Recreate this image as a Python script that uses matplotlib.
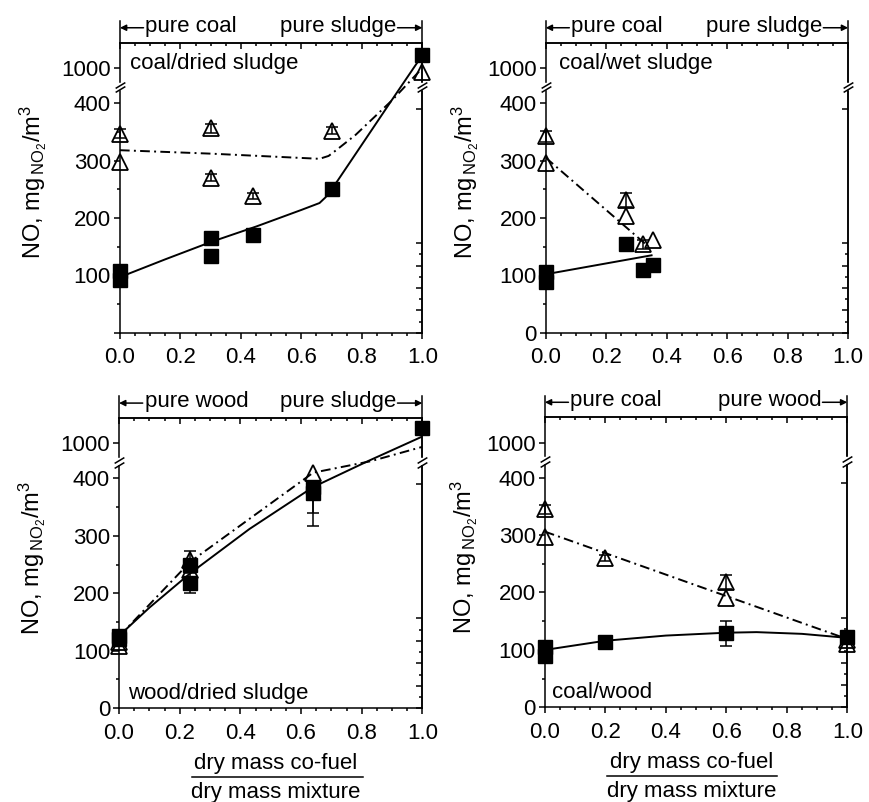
import numpy as np
import matplotlib
matplotlib.use("Agg")
import matplotlib.pyplot as plt
from matplotlib.ticker import FixedLocator, MultipleLocator, FormatStrFormatter

plt.rcParams["font.family"] = "Liberation Sans"
plt.rcParams["font.size"] = 16
plt.rcParams["mathtext.fontset"] = "custom"
plt.rcParams["mathtext.rm"] = "Liberation Sans"
plt.rcParams["mathtext.it"] = "Liberation Sans:italic"
plt.rcParams["mathtext.bf"] = "Liberation Sans:bold"

# broken y axis: 0-430 linear, 430-800 squeezed, 800+ compressed
BREAK_LO, BREAK_HI, UPPER_SCALE = 430.0, 800.0, 0.15


def forward(v):
    v = np.asarray(v, float)
    return np.where(v <= BREAK_LO, v,
                    np.where(v <= BREAK_HI,
                             BREAK_LO + (v - BREAK_LO) / (BREAK_HI - BREAK_LO),
                             BREAK_LO + 1 + (v - BREAK_HI) * UPPER_SCALE))


def inverse(p):
    p = np.asarray(p, float)
    return np.where(p <= BREAK_LO, p,
                    np.where(p <= BREAK_LO + 1,
                             BREAK_LO + (p - BREAK_LO) * (BREAK_HI - BREAK_LO),
                             BREAK_HI + (p - BREAK_LO - 1) / UPPER_SCALE))


# coal / dried sludge
cds_sq_x = [0, 0, 0.3, 0.3, 0.44, 0.7, 1.0]
cds_sq_y = [108, 92, 165, 133, 170, 250, 1155]
cds_sq_err = [0, 0, 0, 0, 0, 0, 0]
cds_tri_x = [0, 0, 0.3, 0.3, 0.44, 0.7, 1.0]
cds_tri_y = [347, 297, 356, 270, 238, 352, 950]
cds_tri_err = [8, 0, 8, 6, 5, 6, 0]
cds_fit_x = [0, 0.15, 0.3, 0.45, 0.6, 0.66, 0.68, 0.72, 0.9, 1.0]
cds_fit_y = [97, 128, 158, 185, 214, 226, 236, 265, 406, 1150]
cds_dd_x = [0, 0.3, 0.66, 0.69, 0.72, 0.78, 0.9, 1.0]
cds_dd_y = [318, 312, 303, 308, 320, 345, 405, 1000]

# coal / wet sludge
cws_sq_x = [0, 0, 0.265, 0.32, 0.355]
cws_sq_y = [106, 89, 154, 110, 118]
cws_sq_err = [0, 0, 0, 0, 0]
cws_tri_x = [0, 0, 0.265, 0.265, 0.32, 0.355]
cws_tri_y = [342, 295, 231, 203, 154, 162]
cws_tri_err = [10, 0, 12, 0, 8, 0]
cws_fit_x = [0, 0.35]
cws_fit_y = [102, 135]
cws_dd_x = [0, 0.34]
cws_dd_y = [305, 150]

# wood / dried sludge
wds_sq_x = [0, 0, 0.235, 0.235, 0.64, 0.64, 1.0]
wds_sq_y = [126, 120, 250, 218, 385, 375, 1180]
wds_sq_err = [0, 0, 0, 18, (68, 0), (36, 0), 0]
wds_tri_x = [0, 0, 0.235, 0.235, 0.64]
wds_tri_y = [115, 108, 258, 240, 410]
wds_tri_err = [0, 0, 15, 0, 0]
wds_fit_x = [0, 0.1, 0.235, 0.43, 0.64, 0.82, 1.0]
wds_fit_y = [126, 175, 235, 312, 385, 430, 1080]
wds_dd_x = [0, 0.235, 0.64, 0.83, 1.0]
wds_dd_y = [125, 255, 410, 432, 960]

# coal / wood
cw_sq_x = [0, 0, 0.2, 0.6, 1.0]
cw_sq_y = [105, 90, 113, 129, 122]
cw_sq_err = [0, 0, 10, 22, 8]
cw_tri_x = [0, 0, 0.2, 0.6, 0.6, 1.0, 1.0]
cw_tri_y = [345, 297, 260, 218, 190, 117, 110]
cw_tri_err = [8, 0, 6, 12, 0, 0, 0]
cw_fit_x = [0, 0.2, 0.4, 0.6, 0.7, 0.85, 1.0]
cw_fit_y = [100, 116, 125, 130, 131, 128, 121]
cw_dd_x = [0, 1.0]
cw_dd_y = [306, 119]

y_major = [0, 100, 200, 300, 400, 1000]
y_minor = [50, 150, 250, 350]
YLABEL = r"NO, mg$\/_{\rm NO_2}$/m$^3$"

TICK_MAJOR, TICK_MINOR = 4.5, 2.5


def error_bars(ax, xs, ys, errs, zorder):
    for x, y, e in zip(xs, ys, errs):
        lo, hi = e if isinstance(e, tuple) else (e, e)
        if lo == 0 and hi == 0:
            continue
        ax.errorbar([x], [y], yerr=[[lo], [hi]], fmt="none", ecolor="k",
                    elinewidth=1.1, capsize=4.5, capthick=1.1, clip_on=False,
                    zorder=zorder)


def draw_panel(ax, name, left_fuel, right_fuel, sq, tri, fit, dd,
               name_pos, show_zero=True, xlabel=None, ylabel_x=-0.235):
    ax.set_yscale("function", functions=(forward, inverse))
    ax.set_xlim(0, 1.0)
    ax.set_ylim(0, 1293)

    ax.plot(fit[0], fit[1], color="k", lw=1.4, zorder=2)
    ax.plot(dd[0], dd[1], color="k", lw=1.4, dashes=(5, 2.2, 1.0, 2.2), zorder=2)

    error_bars(ax, tri[0], tri[1], tri[2], 3)
    error_bars(ax, sq[0], sq[1], sq[2], 3)
    ax.plot(tri[0], tri[1], ls="none", marker="^", ms=11.5, mfc="none",
            mec="k", mew=1.3, clip_on=False, zorder=4)
    ax.plot(sq[0], sq[1], ls="none", marker="s", ms=9.5, mfc="k", mec="k",
            clip_on=False, zorder=5)

    ax.yaxis.set_major_locator(FixedLocator(y_major))
    ax.yaxis.set_minor_locator(FixedLocator(y_minor))
    labels = [str(v) for v in y_major]
    if not show_zero:
        labels[0] = ""
    ax.set_yticklabels(labels)
    ax.xaxis.set_major_locator(MultipleLocator(0.2))
    ax.xaxis.set_minor_locator(MultipleLocator(0.05))
    ax.xaxis.set_major_formatter(FormatStrFormatter("%.1f"))

    ax.tick_params(axis="both", which="both", width=1.1, labelsize=16)
    ax.tick_params(axis="both", which="major", length=TICK_MAJOR)
    ax.tick_params(axis="both", which="minor", length=TICK_MINOR)
    ax.tick_params(axis="x", which="both", direction="out", top=False, pad=6)
    ax.tick_params(axis="y", which="both", direction="out", right=False, pad=2)
    for spine in ax.spines.values():
        spine.set_linewidth(1.1)

    # inward ticks on the mirrored top and right axes
    top = ax.secondary_xaxis("top")
    top.xaxis.set_major_locator(MultipleLocator(0.2))
    top.xaxis.set_minor_locator(MultipleLocator(0.05))
    top.tick_params(axis="x", which="both", direction="in", labeltop=False, width=1.1)
    top.tick_params(which="major", length=TICK_MAJOR)
    top.tick_params(which="minor", length=TICK_MINOR)
    top.spines["top"].set_linewidth(1.1)
    right = ax.secondary_yaxis("right")
    right.yaxis.set_major_locator(FixedLocator(y_major))
    right.yaxis.set_minor_locator(FixedLocator(y_minor))
    right.tick_params(axis="y", which="both", direction="in", labelright=False, width=1.1)
    right.tick_params(which="major", length=TICK_MAJOR)
    right.tick_params(which="minor", length=TICK_MINOR)
    right.spines["right"].set_linewidth(1.1)

    # break marks on both vertical spines
    ytr = ax.get_yaxis_transform()
    slash = [(-1, -0.6), (1, 0.6)]
    for xs in (0, 1):
        ax.plot([xs], [431.5], transform=ytr, marker="s", ms=5, mfc="w",
                mec="w", clip_on=False, zorder=6)
        ax.plot([xs], [BREAK_LO - 6], transform=ytr, marker=slash, ms=7,
                color="k", mew=1.1, ls="none", clip_on=False, zorder=7)
        ax.plot([xs], [BREAK_HI + 5], transform=ytr, marker=slash, ms=7,
                color="k", mew=1.1, ls="none", clip_on=False, zorder=7)

    # pure fuel arrows above the axes
    tr = ax.transAxes
    for xs in (0, 1):
        ax.plot([xs, xs], [1.0, 1.075], transform=tr, color="k", lw=1.1,
                clip_on=False)
    arrow = dict(arrowstyle="-|>", lw=1.1, color="k", mutation_scale=9,
                 shrinkA=0, shrinkB=0)
    ax.annotate("", xy=(0, 1.052), xytext=(0.078, 1.052), xycoords=tr,
                textcoords=tr, arrowprops=arrow)
    ax.annotate("", xy=(1.0, 1.052), xytext=(0.918, 1.052), xycoords=tr,
                textcoords=tr, arrowprops=arrow)
    ax.text(0.084, 1.057, "pure " + left_fuel, transform=tr, ha="left",
            va="center", fontsize=16)
    ax.text(0.914, 1.057, "pure " + right_fuel, transform=tr, ha="right",
            va="center", fontsize=16)

    ax.text(name_pos[0], name_pos[1], name, transform=tr, ha="left",
            va="center", fontsize=16)

    ax.set_ylabel(YLABEL, fontsize=17)
    ax.yaxis.set_label_coords(ylabel_x, 0.52)

    if xlabel is not None:
        cx, x0, x1 = xlabel
        ax.text(cx, -0.19, "dry mass co-fuel", transform=tr, ha="center",
                va="center", fontsize=16)
        ax.plot([x0, x1], [-0.238, -0.238], transform=tr, color="k", lw=1.1,
                clip_on=False)
        ax.text(cx, -0.29, "dry mass mixture", transform=tr, ha="center",
                va="center", fontsize=16)


fig = plt.figure(figsize=(8.69, 8.02), dpi=100)
ax_tl = fig.add_axes([0.138, 0.585, 0.348, 0.3616])
ax_tr = fig.add_axes([0.628, 0.585, 0.348, 0.3616])
ax_bl = fig.add_axes([0.137, 0.117, 0.349, 0.3616])
ax_br = fig.add_axes([0.627, 0.118, 0.348, 0.3616])

draw_panel(ax_tl, "coal/dried sludge", "coal", "sludge",
           (cds_sq_x, cds_sq_y, cds_sq_err), (cds_tri_x, cds_tri_y, cds_tri_err),
           (cds_fit_x, cds_fit_y), (cds_dd_x, cds_dd_y),
           (0.033, 0.93), show_zero=False)
draw_panel(ax_tr, "coal/wet sludge", "coal", "sludge",
           (cws_sq_x, cws_sq_y, cws_sq_err), (cws_tri_x, cws_tri_y, cws_tri_err),
           (cws_fit_x, cws_fit_y), (cws_dd_x, cws_dd_y),
           (0.045, 0.93), ylabel_x=-0.215)
draw_panel(ax_bl, "wood/dried sludge", "wood", "sludge",
           (wds_sq_x, wds_sq_y, wds_sq_err), (wds_tri_x, wds_tri_y, wds_tri_err),
           (wds_fit_x, wds_fit_y), (wds_dd_x, wds_dd_y),
           (0.03, 0.05), xlabel=(0.516, 0.239, 0.804))
draw_panel(ax_br, "coal/wood", "coal", "wood",
           (cw_sq_x, cw_sq_y, cw_sq_err), (cw_tri_x, cw_tri_y, cw_tri_err),
           (cw_fit_x, cw_fit_y), (cw_dd_x, cw_dd_y),
           (0.022, 0.05), xlabel=(0.486, 0.204, 0.769), ylabel_x=-0.215)

fig.savefig("out.png", dpi=100)
